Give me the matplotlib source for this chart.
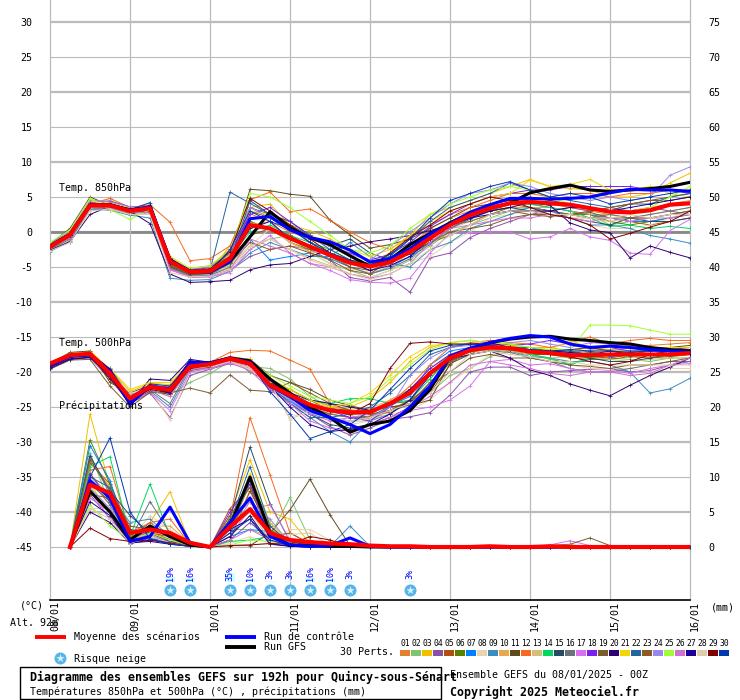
import numpy as np
import matplotlib
matplotlib.use('Agg')
import matplotlib.pyplot as plt
from matplotlib.patches import Rectangle

dates = ['08/01', '09/01', '10/01', '11/01', '12/01', '13/01', '14/01', '15/01', '16/01']
temp_ticks = [30, 25, 20, 15, 10, 5, 0, -5, -10, -15, -20, -25, -30, -35, -40, -45]
precip_ticks = [75, 70, 65, 60, 55, 50, 45, 40, 35, 30, 25, 20, 15, 10, 5, 0]

colors = ['#E67E30', '#82C36E', '#F0C000', '#8A50A8', '#B05010', '#5A8000', '#0080FF', '#E8D5B0',
          '#3A8CC0', '#E8A850', '#604A1C', '#F56A1E', '#D4BF78', '#00D860', '#264A64', '#68737C',
          '#D870F0', '#7820F0', '#7A5C2E', '#300070', '#F0D800', '#24649E', '#8F5A22', '#9A88F0',
          '#A0FF30', '#D070D0', '#1C0098', '#E0CCA8', '#800000', '#0038B0']

# 850 hPa, one value every 6 h
t850_mean = [-2.1, -0.4, 3.8, 3.8, 3.0, 3.4, -4.2, -5.7, -5.6, -3.8, 1.0, 0.5, -0.9, -2.1, -3.3, -4.4, -4.9,
             -4.3, -2.8, -0.9, 1.0, 2.4, 3.4, 4.1, 4.3, 4.1, 3.9, 3.4, 2.9, 2.8, 3.1, 3.9, 4.1]
t850_ctrl = [-2.0, -0.3, 3.9, 3.9, 3.1, 3.6, -4.0, -5.6, -5.7, -4.2, 1.9, 2.2, 0.3, -0.8, -1.4, -2.6, -4.3,
             -3.8, -2.4, -0.3, 1.2, 2.8, 3.9, 4.8, 4.8, 4.7, 4.8, 5.0, 5.6, 6.1, 6.0, 6.0, 5.8]
t850_gfs = [-2.0, -0.3, 3.9, 3.9, 3.1, 3.6, -4.0, -5.6, -5.7, -4.2, -0.7, 2.9, 0.6, -0.8, -1.8, -3.4, -4.9,
            -3.9, -1.8, -0.2, 1.3, 2.7, 3.5, 4.1, 5.6, 6.2, 6.7, 6.0, 5.8, 6.0, 6.2, 6.5, 7.1]

t850 = [
    [-2.0, -0.4, 3.5, 3.9, 3.2, 3.0, -4.0, -5.8, -5.6, -3.5, 2.6, 1.5, 0.0, -1.0, -2.0, -3.5, -5.0, -4.0, -2.0, 0.5, 2.0, 3.0, 4.0, 4.5, 4.5, 4.0, 3.5, 3.0, 2.5, 2.0, 2.0, 2.5, 3.0],
    [-2.6, -1.2, 3.2, 3.4, 2.6, 2.8, -5.0, -6.2, -6.0, -4.8, -2.0, -1.0, -0.5, -3.0, -4.5, -5.5, -6.5, -5.5, -4.0, -2.0, 0.0, 1.0, 2.0, 3.0, 3.5, 3.5, 3.0, 2.5, 1.0, 1.5, 2.0, 2.5, 3.0],
    [-1.6, 0.0, 4.2, 4.5, 3.4, 3.5, -3.6, -5.4, -5.6, -2.0, 3.5, 4.0, 1.0, 0.2, -1.0, -2.5, -4.5, -3.0, -0.5, 2.5, 3.5, 4.5, 5.5, 6.5, 7.5, 6.5, 6.2, 6.0, 5.0, 5.0, 5.5, 7.0, 8.4],
    [-2.4, -0.8, 3.4, 3.2, 3.0, 2.6, -5.2, -6.4, -6.4, -5.5, -3.5, -2.5, -2.0, -2.5, -4.0, -6.5, -7.0, -6.5, -8.6, -3.7, -3.0, -0.8, 0.5, 1.5, 2.5, 3.0, 3.5, 3.0, 3.5, 3.0, 3.5, 3.0, 2.5],
    [-2.2, -0.6, 3.7, 3.5, 2.9, 3.2, -4.6, -5.9, -5.2, -3.0, 3.0, 2.0, 0.5, -1.5, -3.5, -4.5, -5.5, -4.5, -3.0, -1.0, 1.5, 2.5, 3.0, 3.5, 3.5, 3.0, 2.5, 2.0, 2.0, 1.5, 1.0, 1.5, 2.0],
    [-1.9, -0.2, 4.0, 3.8, 3.3, 3.1, -4.2, -5.5, -5.0, -2.5, 1.5, 0.5, -1.5, -2.5, -3.0, -4.0, -4.5, -3.5, -3.0, -1.5, -0.5, 1.0, 2.5, 3.5, 3.5, 3.0, 2.5, 2.5, 1.5, 1.0, 1.5, 2.0, 2.5],
    [-2.3, -0.7, 3.6, 3.7, 3.2, 3.3, -4.8, -6.0, -6.1, -4.5, -1.0, -4.0, -3.5, -3.0, -3.8, -5.0, -6.0, -5.0, -3.5, -1.8, 0.5, 1.8, 3.0, 4.0, 4.0, 3.5, 3.0, 2.5, 2.0, 1.5, 1.5, 2.0, 2.5],
    [-1.8, -1.5, 3.2, 4.8, 3.5, 2.5, -5.5, -6.0, -5.6, -5.0, -2.0, 0.5, -1.5, -3.0, -4.5, -6.0, -6.5, -5.5, -4.5, -3.5, -1.5, 0.0, 2.0, 2.5, 3.0, 2.5, 2.0, 1.0, 0.5, 0.5, 1.0, 2.0, 3.0],
    [-2.8, -1.3, 3.3, 3.1, 2.4, 2.0, -6.6, -6.9, -6.8, -5.6, -3.0, -1.5, -2.5, -3.5, -3.5, -1.5, -3.5, -4.5, -5.0, -2.5, -1.5, 0.5, 1.5, 2.5, 3.5, 3.0, 2.0, 1.0, 1.0, 0.5, -0.5, -1.0, -1.6],
    [-2.2, -0.5, 3.5, 4.1, 3.0, 2.8, -4.4, -5.7, -5.3, -3.2, 1.0, 1.5, -1.5, -2.8, -3.2, -4.2, -5.2, -4.0, -2.5, 0.0, 1.0, 2.0, 3.0, 3.5, 3.5, 3.5, 3.0, 2.5, 2.5, 3.0, 3.5, 4.0, 4.5],
    [-1.7, 0.5, 5.0, 3.8, 3.4, 3.2, -4.5, -5.6, -5.0, -3.5, 6.1, 5.9, 5.4, 5.1, 1.7, -0.4, -2.3, -1.8, -1.0, 0.5, 2.0, 3.5, 4.0, 4.5, 5.0, 4.5, 4.0, 3.5, 3.0, 4.0, 4.5, 5.0, 5.5],
    [-2.1, -0.3, 4.0, 4.8, 3.5, 3.9, 1.4, -4.1, -3.8, -2.0, 4.6, 5.7, 2.9, 3.3, 1.7, 0.0, -1.5, -2.5, -0.5, 1.0, 2.5, 3.5, 4.5, 5.5, 5.5, 5.0, 5.5, 5.5, 5.0, 5.5, 5.5, 6.0, 6.0],
    [-2.3, -0.9, 3.4, 3.6, 2.8, 3.0, -5.0, -6.2, -6.1, -5.2, -2.5, -1.0, -2.5, -3.8, -4.8, -5.2, -5.8, -5.0, -3.0, -2.0, 0.5, 1.5, 2.5, 3.0, 3.0, 2.5, 2.0, 2.0, 1.5, 2.0, 2.5, 3.0, 3.5],
    [-2.0, -0.5, 3.8, 3.8, 3.1, 3.4, -4.3, -5.6, -5.4, -3.6, 0.0, 1.0, -0.5, -1.5, -2.5, -4.0, -4.6, -3.8, -2.2, -0.5, 1.5, 2.5, 3.5, 4.0, 4.0, 3.5, 3.0, 2.0, 0.8, 1.0, 0.5, 0.8, 0.5],
    [-2.4, -0.8, 3.6, 3.7, 3.0, 2.9, -5.0, -6.1, -5.9, -4.3, 4.5, 2.5, 1.5, -0.5, -2.0, -1.0, -3.0, -4.0, -3.2, -1.5, 0.5, 2.0, 3.0, 3.5, 3.0, 2.5, 2.0, 1.5, 1.0, 2.0, 1.5, 1.5, 2.0],
    [-2.5, -1.0, 3.5, 3.3, 2.7, 3.0, -5.1, -6.3, -6.2, -5.0, 3.5, 2.5, 1.0, -1.5, -3.0, -5.0, -6.0, -5.2, -3.8, -1.5, 0.5, 2.0, 3.2, 4.0, 3.5, 3.0, 2.5, 2.0, 2.5, 2.0, 2.5, 3.0, 3.5],
    [-2.2, -0.6, 3.7, 3.6, 2.9, 3.2, -5.4, -6.5, -6.4, -5.8, -2.5, -0.5, -3.0, -4.5, -5.5, -6.8, -7.2, -7.3, -6.6, -3.0, -0.2, -0.1, 0.0, 0.0, -1.0, -0.7, 0.5, -0.7, -1.2, -3.0, -3.2, 0.2, 1.8],
    [-1.9, -0.2, 4.3, 4.4, 3.6, 3.7, -3.9, -5.3, -5.1, -3.0, 2.5, 3.5, 1.5, -0.5, -2.0, -3.0, -4.0, -3.2, -1.5, 0.8, 2.5, 4.0, 5.0, 5.5, 6.0, 6.0, 6.5, 6.5, 6.5, 6.5, 6.0, 6.0, 5.5],
    [-2.1, -0.6, 3.6, 3.5, 3.0, 3.0, -4.7, -6.0, -5.9, -4.5, -0.5, 0.5, -0.5, -2.0, -3.5, -5.0, -5.5, -4.5, -3.0, -1.5, 0.0, 0.5, 1.0, 2.0, 2.5, 2.2, 2.5, 2.8, 2.0, 2.0, 2.0, 2.5, 3.0],
    [-2.6, -1.4, 2.5, 3.7, 3.0, 1.2, -6.0, -7.2, -7.1, -6.9, -5.4, -4.7, -4.5, -3.5, -2.5, -2.0, -1.4, -1.0, -0.5, 0.2, 1.0, 2.0, 3.0, 3.5, 4.2, 3.8, 1.3, 0.3, -0.1, -3.7, -2.0, -2.9, -3.7],
    [-1.8, -0.1, 4.4, 4.2, 3.5, 3.7, -3.5, -5.2, -4.8, -2.5, 3.0, 2.5, 1.0, -0.5, -1.5, -2.5, -3.5, -2.5, -0.5, 1.5, 3.0, 4.0, 5.0, 5.5, 7.4, 6.5, 6.8, 7.5, 6.0, 6.0, 6.5, 5.5, 5.0],
    [-2.0, -0.4, 3.9, 3.8, 3.2, 3.5, -4.2, -5.6, -5.5, 5.7, 4.1, 2.5, 1.0, -0.5, -2.5, -4.0, -5.0, -3.5, -1.0, 1.5, 3.5, 4.5, 5.5, 7.0, 6.0, 5.0, 4.5, 4.0, 3.5, 4.0, 4.0, 5.0, 5.5],
    [-2.2, -0.7, 3.6, 3.5, 3.1, 3.1, -4.9, -6.0, -5.9, -4.5, -1.5, -2.5, -2.0, -3.0, -4.0, -5.5, -6.0, -4.0, -2.5, -0.5, 1.0, 1.5, 2.5, 3.0, 2.5, 2.5, 2.5, 3.0, 3.5, 4.0, 4.5, 4.5, 5.0],
    [-1.7, 0.2, 4.6, 4.3, 3.6, 3.4, -4.0, -5.3, -5.0, -3.0, 3.5, 2.0, 0.5, -1.0, -2.0, -3.2, -4.0, -2.0, 0.0, 2.0, 4.0, 5.5, 6.0, 7.0, 6.5, 5.5, 5.0, 4.5, 5.0, 4.5, 5.0, 8.1, 9.3],
    [-1.5, 0.3, 4.8, 3.2, 1.8, 3.2, -3.8, -5.2, -4.8, -2.8, 5.5, 5.0, 3.5, 1.5, -0.5, -2.5, -3.0, -2.0, 0.5, 2.5, 4.0, 5.0, 6.0, 6.5, 6.0, 5.0, 4.0, 3.5, 3.0, 3.0, 3.5, 5.0, 6.5],
    [-2.3, -0.9, 3.5, 3.4, 2.8, 2.8, -5.3, -6.4, -6.3, -5.4, -1.0, -2.0, -3.0, -4.5, -5.0, -6.0, -6.6, -6.0, -4.5, -1.5, 0.5, 1.0, 1.5, 2.0, 2.0, 2.5, 2.0, 1.5, 2.0, 1.5, 2.0, 2.0, 2.5],
    [-2.0, -0.5, 3.8, 3.7, 3.2, 3.3, -4.4, -5.8, -5.7, -4.0, 0.5, 1.5, -1.0, -2.0, -3.0, -4.2, -5.5, -4.8, -3.5, -1.0, 1.0, 2.0, 2.5, 3.0, 3.0, 3.0, 3.5, 3.5, 3.0, 3.5, 4.0, 4.5, 5.0],
    [-2.7, -1.5, 3.0, 3.3, 2.5, 2.5, -5.8, -6.4, -6.3, -5.5, -2.0, -1.0, -2.5, -4.0, -5.0, -6.0, -6.8, -6.0, -4.5, -2.5, -0.5, 1.0, 2.5, 3.0, 3.0, 2.5, 2.5, 2.0, 2.0, 2.5, 2.0, 2.5, 2.5],
    [-2.1, -0.4, 4.1, 4.0, 3.3, 3.5, -4.1, -5.5, -5.3, -2.8, 4.8, 3.0, 1.0, -1.0, -3.0, -4.5, -5.0, -3.0, -0.8, 1.0, 3.0, 4.0, 5.0, 4.5, 3.5, 2.5, 2.0, 1.0, -1.0, -0.2, 0.7, 1.5, 3.0],
    [-2.2, -0.5, 3.7, 3.8, 3.2, 4.2, -3.7, -5.9, -5.8, -2.5, 3.0, 1.5, 0.5, -1.5, -3.0, -4.0, -4.8, -3.2, -1.0, 2.0, 4.5, 5.5, 6.5, 7.2, 6.0, 5.0, 5.5, 5.0, 4.0, 4.5, 5.0, 5.5, 6.0],
]

# 500 hPa
t500_mean = [-18.8, -17.6, -17.4, -20.2, -23.8, -22.1, -22.6, -19.2, -18.9, -18.1, -18.8, -21.9, -23.3, -24.7, -25.5, -25.8, -25.7,
             -24.5, -23.0, -20.2, -18.0, -16.9, -16.5, -16.6, -17.1, -17.3, -17.6, -17.6, -17.5, -17.5, -17.5, -17.5, -17.3]
t500_ctrl = [-19.0, -17.7, -17.5, -19.8, -24.5, -22.0, -22.8, -18.6, -18.7, -18.0, -18.6, -22.0, -23.5, -25.5, -26.5, -27.5, -28.8,
             -27.5, -25.0, -22.0, -17.8, -16.6, -15.8, -15.2, -14.8, -15.0, -16.0, -16.5, -16.3, -16.5, -16.8, -17.0, -17.2]
t500_gfs = [-19.0, -17.7, -17.5, -19.8, -24.5, -22.0, -22.8, -18.6, -18.7, -18.0, -18.4, -21.0, -23.0, -25.0, -26.5, -28.6, -27.5,
            -27.0, -25.5, -22.5, -17.8, -16.8, -15.8, -15.3, -15.0, -14.9, -15.3, -15.5, -15.8, -16.0, -16.5, -16.8, -17.0]

t500 = [
    [-19.2, -17.9, -17.7, -20.5, -23.6, -22.3, -22.4, -19.4, -19.1, -18.3, -19.0, -21.0, -22.5, -24.0, -24.8, -25.5, -26.0, -24.0, -22.5, -19.5, -17.5, -16.8, -16.2, -16.4, -16.8, -17.0, -17.2, -17.0, -17.0, -16.5, -16.2, -16.0, -15.8],
    [-19.0, -18.0, -17.8, -20.0, -23.2, -22.8, -23.2, -21.5, -20.2, -18.5, -19.2, -19.5, -21.0, -23.5, -25.0, -26.2, -26.8, -25.5, -24.0, -23.0, -20.5, -19.5, -17.8, -17.0, -17.5, -18.2, -18.8, -18.0, -18.0, -18.2, -18.5, -18.0, -18.0],
    [-18.6, -17.4, -17.0, -19.6, -22.8, -21.6, -21.8, -18.8, -18.6, -17.8, -18.2, -22.5, -24.5, -26.0, -26.0, -25.0, -23.8, -21.5, -18.5, -16.5, -15.8, -15.5, -15.8, -16.0, -16.5, -16.5, -17.0, -16.5, -16.8, -17.0, -17.0, -16.8, -16.5],
    [-19.3, -18.2, -18.0, -21.0, -24.5, -23.0, -26.5, -20.5, -19.6, -18.8, -19.5, -21.5, -24.0, -26.0, -27.8, -29.0, -28.0, -26.8, -26.4, -25.8, -23.3, -20.0, -19.3, -19.3, -20.5, -20.0, -19.8, -19.6, -19.5, -20.0, -19.8, -19.0, -18.5],
    [-18.9, -17.7, -17.4, -20.0, -23.9, -22.2, -22.9, -19.0, -18.8, -18.0, -18.7, -22.0, -23.5, -25.2, -26.0, -26.5, -26.3, -25.0, -24.5, -23.0, -19.0, -16.5, -16.0, -16.2, -16.8, -17.2, -17.5, -17.8, -18.0, -17.5, -17.0, -16.8, -17.0],
    [-18.8, -17.5, -17.3, -20.3, -24.0, -22.4, -23.0, -19.5, -19.0, -18.0, -20.0, -21.5, -22.5, -24.0, -25.5, -26.0, -26.0, -24.5, -24.2, -22.0, -18.5, -17.0, -16.8, -17.0, -17.5, -17.5, -18.0, -18.2, -18.2, -17.8, -18.0, -17.8, -17.5],
    [-19.1, -17.8, -17.6, -19.5, -23.5, -21.9, -22.3, -18.9, -18.7, -18.2, -18.8, -22.3, -24.2, -26.0, -26.8, -27.0, -26.5, -24.8, -23.5, -19.0, -17.0, -16.5, -16.5, -16.6, -16.8, -17.0, -17.2, -17.0, -17.8, -17.5, -17.5, -17.5, -17.5],
    [-19.0, -17.9, -17.8, -20.8, -24.2, -22.6, -26.8, -20.0, -19.4, -18.6, -19.6, -21.8, -26.5, -25.5, -27.0, -27.5, -27.0, -26.0, -25.5, -24.0, -21.5, -19.5, -17.5, -17.2, -17.8, -18.5, -19.0, -19.5, -19.5, -19.5, -20.0, -19.5, -19.5],
    [-19.4, -18.1, -17.9, -20.9, -24.3, -22.7, -25.0, -19.6, -19.2, -18.4, -19.0, -22.5, -24.5, -26.5, -28.5, -30.0, -27.0, -26.0, -24.0, -20.0, -17.5, -17.0, -16.8, -17.0, -17.8, -18.0, -18.5, -18.5, -19.0, -20.0, -23.0, -22.4, -20.9],
    [-18.7, -17.6, -17.4, -20.1, -23.4, -22.0, -22.2, -18.9, -18.7, -17.9, -18.5, -21.5, -23.0, -24.5, -25.0, -25.3, -25.2, -24.0, -22.5, -21.0, -18.0, -16.5, -16.3, -16.5, -16.5, -17.0, -17.5, -16.8, -16.8, -17.0, -16.5, -16.5, -16.5],
    [-18.8, -17.2, -17.0, -21.5, -23.0, -21.9, -22.5, -19.8, -19.3, -18.0, -18.2, -20.5, -21.5, -22.5, -24.0, -24.8, -25.5, -25.0, -24.8, -24.0, -18.8, -17.5, -16.0, -16.5, -17.0, -17.0, -16.8, -16.5, -17.0, -17.2, -16.8, -16.5, -16.2],
    [-18.9, -17.6, -17.2, -19.8, -23.5, -22.2, -22.0, -19.2, -18.6, -17.2, -16.9, -17.0, -18.3, -19.6, -24.5, -25.5, -26.0, -24.5, -22.0, -19.0, -16.5, -15.8, -15.5, -15.8, -16.0, -16.5, -15.8, -15.0, -16.0, -15.5, -15.2, -15.5, -15.5],
    [-19.1, -17.9, -17.7, -20.4, -24.1, -22.5, -23.5, -19.5, -19.2, -18.4, -19.0, -22.0, -24.0, -25.5, -26.5, -27.0, -27.0, -25.5, -24.5, -22.0, -18.5, -17.2, -16.8, -17.0, -17.5, -18.0, -17.8, -18.0, -18.2, -18.5, -18.2, -18.0, -18.0],
    [-18.7, -17.5, -17.5, -20.2, -23.7, -22.2, -22.6, -19.0, -18.7, -18.0, -18.6, -21.5, -23.5, -24.0, -24.5, -23.8, -23.8, -24.5, -24.0, -21.0, -17.8, -16.5, -16.5, -16.0, -17.5, -18.0, -19.0, -18.0, -17.5, -17.0, -17.0, -17.0, -16.8],
    [-19.0, -17.8, -17.6, -20.6, -24.4, -22.7, -23.2, -19.4, -19.0, -18.2, -18.9, -21.0, -23.2, -26.0, -27.5, -28.0, -27.5, -26.5, -25.0, -22.5, -18.5, -17.0, -16.5, -16.5, -17.0, -17.0, -17.5, -18.0, -18.5, -18.5, -18.0, -17.5, -17.5],
    [-19.2, -18.0, -17.8, -20.7, -24.0, -22.5, -24.5, -19.3, -19.0, -18.3, -19.0, -21.8, -23.8, -25.0, -26.0, -26.5, -26.5, -25.5, -24.5, -21.5, -18.5, -17.5, -17.0, -17.2, -18.0, -18.5, -19.5, -20.0, -20.0, -19.5, -19.0, -18.5, -18.5],
    [-19.3, -18.1, -17.9, -20.8, -24.2, -22.9, -25.5, -20.0, -19.5, -18.7, -19.8, -22.5, -24.5, -26.0, -27.0, -26.5, -26.0, -26.5, -25.5, -25.0, -24.0, -22.0, -18.5, -18.2, -19.0, -18.8, -19.5, -20.0, -19.8, -20.2, -19.5, -19.0, -18.8],
    [-18.8, -17.5, -17.3, -19.9, -23.5, -21.8, -22.2, -18.7, -18.6, -17.8, -18.4, -21.2, -23.0, -24.5, -25.5, -26.5, -27.0, -25.0, -22.5, -19.5, -17.5, -16.5, -16.0, -16.2, -16.0, -15.5, -16.0, -16.5, -16.5, -17.0, -17.0, -16.8, -16.5],
    [-19.6, -18.3, -18.2, -22.0, -25.0, -22.9, -23.0, -22.3, -23.0, -20.4, -22.6, -22.8, -21.5, -23.0, -24.5, -25.5, -26.0, -25.5, -24.0, -22.0, -20.0, -18.0, -17.5, -18.0, -18.0, -18.5, -19.0, -19.2, -19.5, -19.0, -19.0, -18.5, -18.0],
    [-19.5, -18.2, -17.9, -20.6, -24.5, -21.0, -21.2, -18.2, -18.6, -18.0, -19.0, -21.5, -23.0, -24.0, -24.5, -25.0, -25.5, -24.5, -22.5, -20.0, -18.2, -17.5, -17.0, -18.0, -19.7, -20.5, -21.7, -22.6, -23.4, -21.9, -20.5, -19.3, -18.0],
    [-18.7, -17.4, -17.2, -19.5, -22.5, -21.5, -21.5, -18.7, -18.5, -17.8, -18.2, -21.0, -22.5, -24.0, -25.0, -24.5, -23.0, -20.5, -17.8, -16.2, -16.0, -16.0, -16.3, -16.2, -16.5, -16.8, -15.5, -16.5, -16.5, -16.2, -16.8, -16.5, -16.5],
    [-19.0, -17.7, -17.5, -19.7, -24.0, -22.1, -22.5, -18.5, -18.6, -17.9, -18.6, -21.8, -24.5, -26.5, -26.5, -26.0, -25.0, -23.0, -20.5, -17.5, -16.5, -16.0, -16.2, -16.5, -16.5, -17.0, -17.0, -17.5, -17.5, -17.5, -17.5, -17.0, -17.0],
    [-18.9, -17.6, -17.3, -20.0, -23.6, -22.0, -22.4, -19.0, -18.8, -18.0, -18.9, -21.7, -23.2, -24.8, -25.2, -25.5, -26.0, -25.8, -24.5, -21.5, -18.5, -17.0, -16.5, -16.8, -17.0, -17.5, -17.5, -17.2, -17.5, -17.2, -17.0, -17.0, -16.8],
    [-19.1, -17.8, -17.5, -20.3, -23.8, -22.3, -22.6, -18.9, -18.8, -18.1, -18.8, -22.2, -24.0, -25.8, -26.5, -27.0, -26.5, -25.0, -20.5, -18.0, -16.5, -16.2, -16.5, -15.8, -15.5, -16.0, -16.5, -15.8, -16.0, -16.2, -16.5, -17.0, -17.2],
    [-18.8, -17.6, -17.4, -20.1, -23.6, -22.2, -22.5, -19.1, -18.9, -18.0, -18.5, -20.5, -22.0, -23.5, -24.0, -24.5, -23.5, -21.0, -19.0, -16.8, -15.8, -15.5, -15.8, -16.0, -16.5, -16.8, -16.8, -13.3, -13.3, -13.4, -14.0, -14.6, -14.6],
    [-19.2, -18.0, -17.7, -20.4, -24.2, -22.6, -23.5, -19.6, -19.5, -18.6, -19.2, -22.5, -24.5, -27.0, -28.0, -28.5, -27.5, -26.5, -25.0, -23.5, -21.5, -19.0, -18.5, -19.0, -19.5, -20.2, -20.5, -20.0, -20.0, -20.5, -20.2, -19.0, -18.0],
    [-19.3, -18.1, -17.9, -20.5, -24.8, -22.0, -22.3, -18.4, -18.8, -18.2, -18.9, -22.0, -25.0, -27.5, -28.5, -28.2, -27.5, -26.0, -24.0, -20.5, -18.0, -17.0, -16.5, -16.5, -16.8, -17.0, -17.2, -17.5, -17.0, -17.5, -17.5, -17.5, -17.5],
    [-18.9, -17.7, -17.5, -20.2, -23.0, -22.4, -22.8, -19.3, -19.1, -18.5, -19.4, -21.5, -26.8, -25.5, -26.5, -27.0, -26.5, -25.5, -24.5, -23.0, -20.0, -17.5, -17.0, -17.5, -17.8, -18.5, -18.5, -19.0, -19.0, -19.0, -19.0, -19.0, -19.0],
    [-19.0, -17.8, -17.6, -21.0, -24.0, -22.5, -23.0, -19.5, -19.0, -18.3, -19.0, -21.0, -23.5, -25.0, -25.5, -26.0, -24.5, -19.5, -15.9, -15.7, -16.0, -16.0, -15.8, -16.5, -17.0, -17.5, -17.8, -18.5, -19.0, -18.5, -17.5, -17.0, -17.0],
    [-19.1, -17.9, -17.7, -19.6, -24.6, -21.7, -22.0, -18.6, -18.7, -18.1, -18.7, -22.8, -26.0, -29.5, -28.5, -27.5, -25.5, -22.5, -19.5, -17.0, -16.2, -16.0, -16.2, -16.5, -16.8, -17.0, -16.8, -17.0, -17.0, -17.2, -17.0, -17.0, -16.8],
]

# precipitation starts at the second time step, the tail is dry
precip_mean = [0, 8.9, 7.7, 2.0, 2.5, 2.0, 0.6, 0, 2.9, 5.4, 2.0, 1.0, 0.7, 0.5, 0.4, 0.2, 0.1, 0.1, 0, 0, 0, 0.1, 0, 0, 0.1]
precip_ctrl = [0, 9.5, 7.0, 0.8, 1.5, 5.7, 0.6, 0, 3.5, 7.0, 1.5, 0.3, 0.1, 0.2, 1.3, 0.1, 0, 0, 0, 0, 0, 0, 0, 0, 0, 0.1]
precip_gfs = [0, 8.0, 5.0, 1.0, 3.0, 1.5, 0.3, 0, 3.0, 10.0, 2.0, 0.2, 0.3, 0.1, 0.1]

precip = [
    [0, 10.5, 7.0, 1.5, 2.5, 1.0, 0.2, 0, 2.0, 8.0, 2.5, 1.0, 0.3],
    [0, 13.5, 6.0, 2.0, 1.5, 0.8, 0.2, 0, 2.5, 2.5, 1.5, 7.1, 1.0, 0.2],
    [0, 19.0, 8.6, 1.5, 3.5, 7.9, 0.5, 0, 4.5, 12.5, 5.0, 4.0, 0.5],
    [0, 7.5, 4.0, 1.2, 3.5, 1.5, 0.2, 0, 1.0, 3.5, 1.0, 0.1],
    [0, 12.0, 9.0, 2.5, 2.0, 1.5, 0.5, 0, 5.5, 8.5, 3.0, 0.5],
    [0, 15.3, 9.0, 1.5, 2.0, 1.0, 0.3, 0, 3.0, 7.0, 2.0, 0.8, 0.2],
    [0, 14.5, 9.5, 1.0, 1.5, 0.5, 0.1, 0, 1.5, 2.5, 2.2, 0.5, 0.1],
    [0, 5.5, 5.5, 1.0, 4.5, 2.5, 0.4, 0, 0.5, 1.5, 0.5, 2.5, 2.5, 1.0],
    [0, 13.0, 7.5, 3.5, 4.0, 1.5, 0.3, 0, 2.5, 9.5, 3.5, 0.5, 0.2, 0.1, 3.0, 0.1],
    [0, 12.5, 8.5, 2.0, 3.0, 3.0, 0.5, 0, 3.5, 6.5, 1.5, 0.6, 0.2],
    [0, 9.0, 6.5, 2.5, 2.0, 1.0, 0.2, 0, 0.2, 0.2, 2.0, 5.3, 9.7, 4.6, 0.2],
    [0, 11.0, 11.5, 2.0, 3.5, 4.0, 0.4, 0, 4.0, 18.5, 10.3, 2.0, 0.5],
    [0, 10.0, 7.5, 2.0, 3.0, 1.8, 0.4, 0, 2.5, 5.0, 1.0, 0.3],
    [0, 11.5, 12.9, 1.5, 9.0, 1.5, 0.2, 0, 0.8, 1.0, 1.5, 0.2],
    [0, 13.0, 8.0, 4.5, 2.0, 0.8, 0.2, 0, 4.0, 14.3, 6.2, 0.8, 0.2],
    [0, 9.5, 6.0, 1.0, 6.5, 2.0, 0.3, 0, 2.5, 9.0, 2.0, 0.3],
    [0, 8.0, 4.0, 0.6, 3.0, 1.2, 0.2, 0, 1.5, 5.5, 6.0, 1.0, 0.5, 0, 0, 0, 0, 0, 0, 0, 0, 0, 0, 0, 0.3, 0.9, 0.2],
    [0, 10.5, 6.5, 0.8, 1.2, 0.8, 0.1, 0, 5.0, 9.0, 2.0, 0.2],
    [0, 12.5, 8.0, 3.0, 2.5, 1.5, 0.3, 0, 1.0, 8.0, 2.5, 0.6, 0, 0, 0, 0, 0, 0, 0, 0, 0, 0, 0, 0, 0.2, 0.4, 1.3, 0.2],
    [0, 5.0, 3.5, 0.5, 1.0, 0.5, 0.1, 0, 1.5, 4.5, 0.5, 0.1],
    [0, 9.0, 5.0, 1.5, 1.5, 1.0, 0.2, 0, 3.0, 10.5, 3.5, 0.5],
    [0, 10.0, 8.5, 2.0, 2.0, 0.8, 0.2, 0, 3.5, 11.5, 3.0, 0.5, 0.1],
    [0, 7.5, 7.0, 1.5, 2.0, 1.0, 0.2, 0, 4.5, 8.5, 1.5, 2.0, 0.5],
    [0, 8.5, 5.5, 1.0, 1.8, 0.6, 0.1, 0, 2.0, 6.5, 4.0, 0.5, 0.2],
    [0, 6.0, 3.0, 1.0, 2.0, 1.0, 0.2, 0, 0.3, 1.0, 0.8, 0.3, 0.1, 0.1, 0, 0, 0, 0, 0, 0, 0, 0, 0, 0, 0.1, 0.3],
    [0, 7.0, 5.0, 0.8, 2.5, 1.5, 0.2, 0, 1.0, 2.5, 1.0, 0.2],
    [0, 6.5, 4.5, 0.6, 0.8, 0.4, 0.1, 0, 2.5, 4.0, 0.4, 0.1],
    [0, 5.5, 4.0, 0.5, 1.5, 0.6, 0.1, 0, 0.3, 0.3, 0.5, 1.8, 2.0, 0.2],
    [0, 2.7, 1.2, 0.8, 1.0, 0.6, 0.1, 0, 0.2, 0.3, 0.5, 0.4, 1.5, 1.0, 0.1],
    [0, 10.0, 15.6, 5.0, 1.2, 0.4, 0.1, 0, 2.0, 4.0, 1.0, 0.2],
]

snow_pos = [6, 7, 9, 10, 11, 12, 13, 14, 15, 18]
snow_pct = [19, 16, 35, 10, 3, 3, 16, 10, 3, 3]

steps = np.arange(33)


def dry_tail(values):
    # precipitation lists stop once the member stays dry
    return list(values) + [0] * (32 - len(values))


plt.rcParams['font.family'] = ['DejaVu Sans Mono']
plt.rcParams['font.size'] = 7.2

fig = plt.figure(figsize=(7.4, 7.0), dpi=100)
ax = fig.add_axes([50 / 740, 100 / 700, 640 / 740, 600 / 700])
ax.set_xlim(0, 32)
ax.set_ylim(-52.57, 33.14)
ax2 = ax.twinx()
ax2.set_ylim(-7.57, 78.14)
ax.set_zorder(1)
ax2.set_zorder(2)
ax2.patch.set_visible(False)

for v in temp_ticks:
    thick = v % 10 == 0
    ax.axhline(v, color='#BBBBBB', lw=1.6 if thick else 0.8, zorder=1)
ax.axhline(0, color='#888888', lw=2.0, zorder=1)
for i in range(0, 33, 4):
    ax.axvline(i, color='#BBBBBB', lw=0.9, zorder=1, clip_on=False)

for member, c in zip(t850, colors):
    ax.plot(steps, member, color=c, lw=0.7, marker='+', ms=2.5, mew=0.5, zorder=3)
for member, c in zip(t500, colors):
    ax.plot(steps, member, color=c, lw=0.7, marker='+', ms=2.5, mew=0.5, zorder=3)
for member, c in zip(precip, colors):
    ax2.plot(steps[1:], dry_tail(member), color=c, lw=0.7, marker='+', ms=2.5, mew=0.5, zorder=3)

for series in (t850_gfs, t500_gfs):
    ax.plot(steps, series, color='black', lw=2.2, zorder=4)
for series in (t850_ctrl, t500_ctrl):
    ax.plot(steps, series, color='#0000FF', lw=2.2, zorder=5)
for series in (t850_mean, t500_mean):
    ax.plot(steps, series, color='#FF0000', lw=3.0, zorder=6)
ax2.plot(steps[1:], dry_tail(precip_gfs), color='black', lw=2.2, zorder=4)
ax2.plot(steps[1:], dry_tail(precip_ctrl), color='#0000FF', lw=2.2, zorder=5)
ax2.plot(steps[1:], dry_tail(precip_mean), color='#FF0000', lw=3.0, zorder=6)

# snow risk row
ax.bar(snow_pos, [p * 0.0386 for p in snow_pct], bottom=-50.0, width=0.5, color='#CCFFFF', zorder=2)
ax.scatter(snow_pos, [-51.2] * len(snow_pos), s=75, color='#55B4E8', zorder=3, lw=0)
ax.scatter(snow_pos, [-51.2] * len(snow_pos), s=40, marker='*', color='#D8F0FF', zorder=3, lw=0)
for pos, pct in zip(snow_pos, snow_pct):
    ax.text(pos, -48.8, f'{pct}%', rotation=90, color='#0000FF', fontsize=6, ha='center', va='center', zorder=4)

for side in ('top', 'left', 'right'):
    ax.spines[side].set_visible(False)
    ax2.spines[side].set_visible(False)
ax.spines['bottom'].set_linewidth(1.2)
ax2.spines['bottom'].set_visible(False)

ax.set_yticks(temp_ticks)
ax.set_yticklabels([str(v) for v in temp_ticks])
ax.tick_params(axis='y', length=0, pad=12.5)
ax2.set_yticks(precip_ticks)
ax2.set_yticklabels([str(v) for v in precip_ticks])
ax2.tick_params(axis='y', length=0, pad=13.5)
ax.set_xticks(range(0, 33, 4))
ax.set_xticklabels(dates, rotation=90, ha='left', va='top')
ax.tick_params(axis='x', length=0, pad=1)
ax.set_axisbelow(False)

# pixel overlay for the legend and captions
ov = fig.add_axes([0, 0, 1, 1], zorder=10)
ov.set_xlim(0, 740)
ov.set_ylim(700, 0)
ov.axis('off')
ov.patch.set_visible(False)


def label(x, y, s, **kw):
    ov.text(x, y, s, va='center', ha=kw.pop('ha', 'left'), **kw)


label(59, 188, 'Temp. 850hPa')
label(59, 343, 'Temp. 500hPa')
label(59, 406, 'Précipitations')
label(20, 606, '(°C)')
label(10, 623, 'Alt. 92m')
label(711, 607, '(mm)')

ov.plot([35, 66], [637, 637], color='#FF0000', lw=2.8, solid_capstyle='butt')
ov.plot([225, 256], [637, 637], color='#0000FF', lw=2.8, solid_capstyle='butt')
ov.plot([225, 256], [647, 647], color='black', lw=2.8, solid_capstyle='butt')
label(74, 637, 'Moyenne des scénarios')
label(264, 637, 'Run de contrôle')
label(264, 647, 'Run GFS')
ov.scatter([60], [658], s=75, color='#55B4E8', lw=0)
ov.scatter([60], [658], s=40, marker='*', color='#D8F0FF', lw=0)
label(74, 659, 'Risque neige')
label(340, 652, '30 Perts.')

for i, c in enumerate(colors):
    x0 = 400 + 11 * i
    ov.add_patch(Rectangle((x0, 650), 10, 6, color=c, lw=0))
    label(x0 + 5, 644, f'{i + 1:02d}', ha='center', fontsize=5.8)

ov.add_patch(Rectangle((20, 667), 421, 32, facecolor='white', edgecolor='black', lw=1.0, zorder=1))
label(30, 677, 'Diagramme des ensembles GEFS sur 192h pour Quincy-sous-Sénart',
      fontsize=8.35, fontweight='bold', zorder=3)
label(30, 692, 'Températures 850hPa et 500hPa (°C) , précipitations (mm)', zorder=3)
label(450, 675, 'Ensemble GEFS du 08/01/2025 - 00Z', zorder=3)
label(450, 692, 'Copyright 2025 Meteociel.fr', fontsize=8.35, fontweight='bold', zorder=3)

fig.savefig('out.png', dpi=100)
